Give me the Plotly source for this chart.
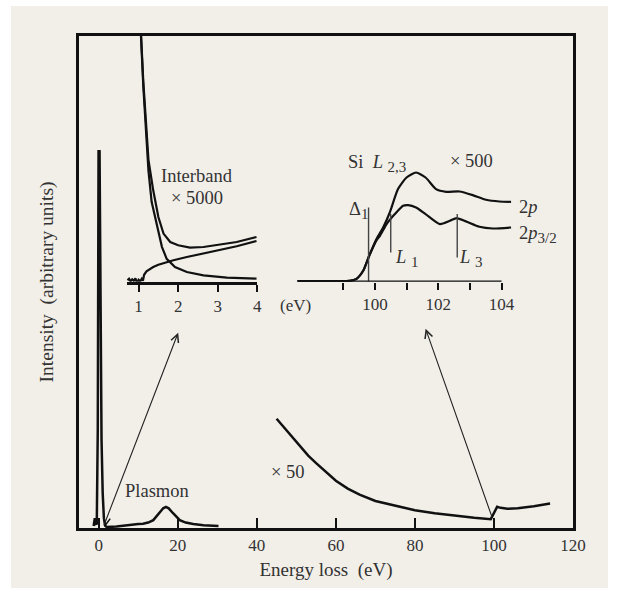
import plotly.graph_objects as go

# ---------------- data ----------------
# main spectrum: zero-loss peak + plasmon (energy loss eV, intensity a.u.)
low_x = [-1.3, -1.0, -0.8, -0.5, -0.25, -0.05, 0.2, 0.4, 0.7, 1.0, 1.3, 1.6, 2.0, 4.5, 6.5, 8.3,
         10.0, 11.2, 12.5, 13.8, 14.8, 15.5, 16.3, 17.0, 17.7, 18.8, 19.6, 20.5, 22.0, 23.9, 26.5, 30.3]
low_y = [0.4, 2.0, 0.8, 0.9, 20, 76.6, 76.6, 45, 18, 7, 2.0, 0.5, 0.2, 0.3, 0.5, 0.75,
         0.8, 0.85, 1.1, 1.6, 2.5, 3.3, 4.0, 4.3, 4.0, 3.0, 2.3, 1.6, 1.1, 0.8, 0.55, 0.4]
hook_x = [1.5, 2.9]
hook_y = [0.4, 1.9]

# x50 core-loss region
x50_x = [45.0, 47.0, 49.0, 51.0, 53.0, 55.0, 57.5, 60.0, 63.0, 66.0, 70.0, 76.0, 80.0, 85.0, 90.0,
         95.0, 99.2, 100.0, 100.8, 101.7, 103.4, 106.0, 110.1, 114.2]
x50_y = [22.2, 20.3, 18.4, 16.4, 14.7, 13.2, 11.4, 9.6, 8.0, 6.8, 5.5, 4.3, 3.6, 3.0, 2.5,
         2.1, 1.8, 3.0, 4.3, 4.1, 3.9, 4.0, 4.4, 5.0]

# arrows (tail -> head) in main coordinates
arrow_tail_x = [1.2, 99.6]
arrow_tail_y = [0.3, 2.0]
arrow_head_x = [20.1, 82.7]
arrow_head_y = [39.7, 40.5]

# interband inset (x5000)
tail_x = [1.02, 1.06, 1.12, 1.19, 1.25, 1.33, 1.46, 1.59, 1.71, 1.92, 2.22, 2.64, 3.23, 3.98]
tail_y = [330, 246, 195, 145, 111, 80, 58, 35, 23, 14.8, 9.8, 6.5, 4.2, 3.2]
sum_x = [1.02, 1.06, 1.12, 1.19, 1.25, 1.37, 1.50, 1.63, 1.80, 2.0, 2.3, 2.64, 3.06, 3.48, 3.98]
sum_y = [332, 249, 200, 152, 122, 91.5, 64.8, 48.2, 39.8, 36.5, 34.2, 34.8, 37.2, 39.8, 44.8]
ib_x = [0.72, 0.76, 0.80, 0.84, 0.88, 0.92, 0.96, 1.00, 1.04, 1.08, 1.11, 1.14, 1.20, 1.29,
        1.37, 1.50, 1.63, 1.88, 2.22, 2.64, 3.06, 3.48, 3.98]
ib_y = [1.5, 3.0, 0.5, 2.5, 1.0, 3.5, -1.0, 2.0, 0.5, 3.0, 1.0, 7.0, 10.5, 13.0,
        14.8, 17.0, 18.8, 21.5, 24.8, 28.2, 31.5, 35.5, 40.8]
ib_ticks = [1, 2, 3, 4]

# Si L2,3 inset (x500)
p2_x = [97.55, 98.5, 99.2, 99.42, 99.63, 99.82, 100.05, 100.26, 100.47, 100.73, 101.0, 101.3,
        101.6, 101.93, 102.25, 102.67, 103.09, 103.51, 103.93, 104.3]
p2_y = [0.8, 0.8, 1.0, 3, 11, 26, 42.7, 54.3, 69.3, 92.7, 104.3, 109.3,
        104.3, 92.7, 90, 90.3, 86.7, 82, 80.3, 80]
p32_x = [97.55, 98.5, 99.2, 99.42, 99.63, 99.82, 100.05, 100.16, 100.37, 100.63, 100.89, 101.05,
         101.3, 101.6, 102.05, 102.37, 102.58, 102.9, 103.3, 103.72, 104.3]
p32_y = [0.8, 0.8, 1.0, 3, 11, 26, 41.5, 46, 57.7, 67.7, 76, 76.7,
         74.3, 67.7, 57.7, 61, 63.7, 60, 55, 53.3, 54.3]
marker_x = [99.8, 100.5, 102.6]
marker_lo = [0, 29.3, 24.3]
marker_hi = [74.4, 67.7, 67.7]
si_ticks = [99, 100, 101, 102, 103, 104]
si_ticktext = ["", "100", "", "102", "", "104"]
si_axis_start, si_axis_end = 97.55, 104.0

main_ticks = [0, 20, 40, 60, 80, 100, 120]

# ---------------- layout helpers ----------------
W, H = 618, 594
ML, MR, MT, MB = 79, 45, 36, 66
PW, PH = W - ML - MR, H - MT - MB


def px(xp):
    return (xp - ML) / PW


def py(yp):
    return (H - MB - yp) / PH


FONT = "Liberation Serif"
TXT = "#333333"
INK = "#111111"
BG = "#f2efe9"

fig = go.Figure()

line = dict(color=INK, width=2.5)
fig.add_trace(go.Scatter(x=low_x, y=low_y, mode="lines", line=line, xaxis="x", yaxis="y"))
fig.add_trace(go.Scatter(x=hook_x, y=hook_y, mode="lines", line=dict(color=INK, width=1.5),
                         xaxis="x", yaxis="y"))
fig.add_trace(go.Scatter(x=x50_x, y=x50_y, mode="lines", line=line, xaxis="x", yaxis="y"))

# interband inset
for xs, ys in [(tail_x, tail_y), (sum_x, sum_y), (ib_x, ib_y)]:
    fig.add_trace(go.Scatter(x=xs, y=ys, mode="lines", line=dict(color=INK, width=2.2),
                             xaxis="x2", yaxis="y2"))

# Si inset
for xs, ys in [(p2_x, p2_y), (p32_x, p32_y)]:
    fig.add_trace(go.Scatter(x=xs, y=ys, mode="lines", line=dict(color=INK, width=2.2, shape="spline",
                                                                    smoothing=0.6),
                             xaxis="x3", yaxis="y3"))
mx, my = [], []
for xv, lo, hi in zip(marker_x, marker_lo, marker_hi):
    mx += [xv, xv, None]
    my += [lo, hi, None]
fig.add_trace(go.Scatter(x=mx, y=my, mode="lines", line=dict(color="#444444", width=1.4),
                         xaxis="x3", yaxis="y3"))
fig.add_trace(go.Scatter(x=[si_axis_start, si_axis_end], y=[0, 0], mode="lines",
                         line=dict(color=INK, width=2.5), xaxis="x3", yaxis="y3"))

# ---------------- axes ----------------
ib_dom = [px(126.7), px(257.3)]
ib_range = [0.7, 4.0]
si_range = [97.55, 104.35]
si_dom = [px(297.3), px(297.3 + 31.67 * (si_range[1] - si_range[0]))]
inset_bottom = py(281.8)

fig.update_layout(
    width=W, height=H,
    margin=dict(l=ML, r=MR, t=MT, b=MB, pad=0),
    paper_bgcolor="white", plot_bgcolor="rgba(0,0,0,0)",
    showlegend=False,
    font=dict(family=FONT, color=TXT),
    xaxis=dict(domain=[0, 1], range=[-5, 120], showline=True, linewidth=3, linecolor=INK,
               mirror=True, ticks="inside", ticklen=10, tickwidth=2, tickcolor=INK,
               tickvals=main_ticks, tickfont=dict(size=17, color=TXT, family=FONT),
               showgrid=False, zeroline=False,
               title=dict(text="Energy loss\u00a0\u00a0(eV)", font=dict(size=19, color=TXT, family=FONT),
                          standoff=9)),
    yaxis=dict(domain=[0, 1], range=[0, 100], showline=True, linewidth=3, linecolor=INK,
               mirror=True, ticks="", showticklabels=False, showgrid=False, zeroline=False,
               title=dict(text="Intensity\u00a0\u00a0(arbitrary units)",
                          font=dict(size=19.5, color=TXT, family=FONT), standoff=18)),
    xaxis2=dict(domain=ib_dom, range=ib_range, anchor="y2", showline=True, linewidth=2.5,
                linecolor=INK, ticks="outside", ticklen=7, tickwidth=2, tickcolor=INK,
                tickvals=ib_ticks, tickfont=dict(size=17, color=TXT, family=FONT),
                showgrid=False, zeroline=False),
    yaxis2=dict(domain=[inset_bottom, 1], range=[0, PH * (1 - inset_bottom)], anchor="x2",
                visible=False),
    xaxis3=dict(domain=si_dom, range=si_range, anchor="y3", showline=False,
                ticks="outside", ticklen=7, tickwidth=2, tickcolor=INK,
                tickvals=si_ticks, ticktext=si_ticktext,
                tickfont=dict(size=17, color=TXT, family=FONT),
                showgrid=False, zeroline=False),
    yaxis3=dict(domain=[inset_bottom, 1], range=[0, PH * (1 - inset_bottom)], anchor="x3",
                visible=False),
)

# background panel
fig.add_shape(type="rect", xref="paper", yref="paper", x0=px(11), x1=px(608), y0=py(588), y1=py(6),
              fillcolor=BG, line=dict(width=0), layer="below")

# arrows
for tx, ty, hx, hy in zip(arrow_tail_x, arrow_tail_y, arrow_head_x, arrow_head_y):
    fig.add_annotation(x=hx, y=hy, ax=tx, ay=ty, xref="x", yref="y", axref="x", ayref="y",
                       showarrow=True, arrowhead=5, arrowsize=1.4, arrowwidth=1.1,
                       arrowcolor="#222222", text="")


# labels
def label(text, xp, yp, size=18.5, xanchor="center"):
    fig.add_annotation(x=px(xp), y=py(yp), xref="paper", yref="paper", text=text,
                       showarrow=False, xanchor=xanchor, yanchor="middle",
                       font=dict(family=FONT, size=size, color=TXT))


def sub(t):
    return "<sub><span style='font-size:15px'>" + t + "</span></sub>"


label("Interband", 196.7, 176)
label("\u00d7 5000", 196.8, 198.3)
label("Si\u00a0\u00a0<i>L</i>\u00a0" + sub("2,3"), 346, 163, xanchor="left")
label("\u00d7 500", 471.7, 161)
label("\u0394" + sub("1"), 346.7, 210, xanchor="left")
label("<i>L</i>\u00a0" + sub("1"), 393, 258, xanchor="left")
label("<i>L</i>\u00a0" + sub("3"), 456.7, 258, xanchor="left")
label("2<i>p</i>", 517, 207, xanchor="left")
label("2<i>p</i>" + sub("3/2"), 517, 235, xanchor="left")
label("(eV)", 295, 305, size=17)
label("Plasmon", 156.7, 491)
label("\u00d7 50", 288, 471.7)

fig.write_html("out.html")
